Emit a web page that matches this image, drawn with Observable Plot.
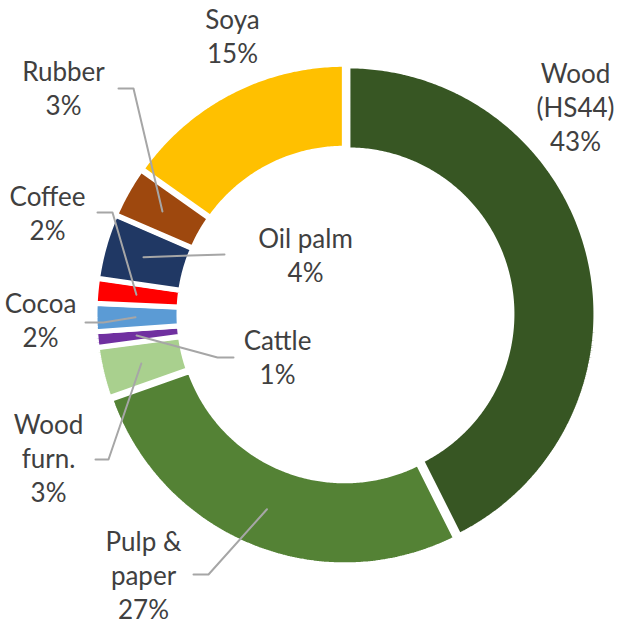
<!DOCTYPE html>
<html><head><meta charset="utf-8">
<script src="https://cdn.jsdelivr.net/npm/d3@7"></script>
<script src="https://cdn.jsdelivr.net/npm/@observablehq/plot@0.6"></script>
<style>body{margin:0;background:#fff}</style>
</head><body><div id="chart"></div>
<script>
// ---- data ----
const categories = ["Wood (HS44)", "Pulp & paper", "Wood furn.", "Cattle", "Cocoa", "Coffee", "Oil palm", "Rubber", "Soya"];
const shares = [42.6, 27.0, 3.3, 1.0, 1.8, 1.6, 4.2, 3.3, 15.2];
const shareLabels = ["43%", "27%", "3%", "1%", "2%", "2%", "4%", "3%", "15%"];
const nameLines = [["Wood", "(HS44)"], ["Pulp &", "paper"], ["Wood", "furn."], ["Cattle"], ["Cocoa"], ["Coffee"], ["Oil palm"], ["Rubber"], ["Soya"]];

// ---- styles ----
const colors = ["#375623", "#548235", "#A9D08E", "#7030A0", "#5B9BD5", "#FF0000", "#203864", "#9E480E", "#FFC000"];

// ---- layout (pixel offsets from the ring centre) ----
const R_OUT = 248, R_IN = 164, EXPLODE = 2.5, LEADER_R = 210, LINE_H = 34;
const labelAt = [[230, -232], [-202, 236], [-297, 119], [-68, 35], [-305, -2], [-298, -109], [-40, -67], [-282, -234], [-113, -286]];
const leaderFrom = [null, [[-152, 260], [-137, 260]], [[-250, 145], [-237, 145]], [[-112, 43], [-128, 43]], [[-260, 8], [-242, 8]], [[-248, -102], [-233, -102]], [[-121, -60], [-155, -59]], [[-227, -226], [-212, -226]], null];

const total = d3.sum(shares);
let cum = 0;
const slices = categories.map((name, i) => {
  const a0 = cum / total * 2 * Math.PI;
  cum += shares[i];
  const a1 = cum / total * 2 * Math.PI;
  return {name, a0, a1, am: (a0 + a1) / 2};
});

const ringPts = [];
for (const s of slices) {
  const ox = EXPLODE * Math.sin(s.am), oy = -EXPLODE * Math.cos(s.am);
  const n = Math.max(2, Math.ceil((s.a1 - s.a0) / 0.01));
  for (let k = 0; k <= n; k++) {
    const a = s.a0 + (s.a1 - s.a0) * k / n;
    ringPts.push({name: s.name, x: ox + R_OUT * Math.sin(a), y: oy - R_OUT * Math.cos(a)});
  }
  for (let k = n; k >= 0; k--) {
    const a = s.a0 + (s.a1 - s.a0) * k / n;
    ringPts.push({name: s.name, x: ox + R_IN * Math.sin(a), y: oy - R_IN * Math.cos(a)});
  }
}

const leaderPts = [];
slices.forEach((s, i) => {
  if (!leaderFrom[i]) return;
  for (const [x, y] of leaderFrom[i]) leaderPts.push({name: s.name, x, y});
  leaderPts.push({name: s.name, x: LEADER_R * Math.sin(s.am), y: -LEADER_R * Math.cos(s.am)});
});

const textRows = [];
categories.forEach((name, i) => {
  const lines = [...nameLines[i], shareLabels[i]];
  lines.forEach((t, j) => textRows.push({text: t, x: labelAt[i][0], y: labelAt[i][1] + j * LINE_H}));
});

const chart = Plot.plot({
  width: 623, height: 627,
  marginLeft: 97, marginRight: 30, marginTop: 66, marginBottom: 65,
  x: {domain: [-248, 248], axis: null},
  y: {domain: [-248, 248], reverse: true, axis: null},
  color: {domain: categories, range: colors},
  style: {fontFamily: "Lato, 'Open Sans', sans-serif", background: "white"},
  marks: [
    Plot.line(ringPts, {x: "x", y: "y", z: "name", fill: "name", stroke: "white", strokeWidth: 5, strokeLinejoin: "miter", curve: "linear-closed"}),
    Plot.line(leaderPts, {x: "x", y: "y", z: "name", stroke: "#A6A6A6", strokeWidth: 2}),
    Plot.text(textRows, {x: "x", y: "y", text: "text", fontSize: 26, fill: "#404040", lineAnchor: "bottom", textAnchor: "middle"})
  ]
});
document.getElementById("chart").append(chart);
</script>
</body></html>
